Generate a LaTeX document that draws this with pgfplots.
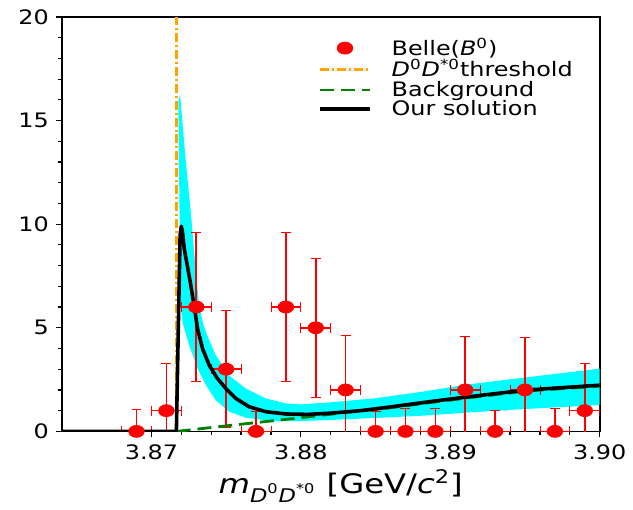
\documentclass[border=0pt]{standalone}
\usepackage{fontspec}
\setmainfont{DejaVu Sans}[FakeStretch=1.2]
\usepackage{amsmath}
\usepackage{pgfplots}
\pgfplotsset{compat=1.18}
\definecolor{mplorange}{RGB}{255,165,0}
\definecolor{mplgreen}{RGB}{0,128,0}
\definecolor{mplcyan}{RGB}{0,255,255}
\definecolor{mplred}{RGB}{255,0,0}
\begin{document}
\begin{tikzpicture}
\begin{axis}[
  scale only axis, width=270pt, height=208pt,
  xmin=3.864, xmax=3.90, ymin=0, ymax=20,
  xtick={3.87,3.88,3.89,3.90}, ytick={0,5,10,15,20},
  minor x tick num=4, minor y tick num=4,
  tick align=outside, tick pos=left,
  major tick length=3pt, minor tick length=1.8pt,
  every tick/.style={black, line width=0.6pt},
  axis line style={black, line width=0.8pt},
  scaled x ticks=false,
  /pgf/number format/assume math mode=true,
  xticklabel style={/pgf/number format/.cd, fixed, fixed zerofill, precision=2, /tikz/.cd, font=\fontsize{10}{12}\selectfont},
  yticklabel style={font=\fontsize{10}{12}\selectfont},
  xlabel={$\text{\itshape m}_{\text{\itshape D}^{\text{0}}\text{\itshape D}^{\text{*0}}}$ [GeV/\textit{c}$^{\text{2}}$]},
  xlabel style={font=\fontsize{13.5}{16}\selectfont, yshift=2pt, xshift=5pt},
  legend style={at={(0.465,0.965)}, anchor=north west, draw=none, fill=none,
    font=\fontsize{10}{10}\selectfont, row sep=-1.5pt, column sep=9pt, nodes={inner sep=1pt}},
  legend cell align=left,
  legend image code/.code={\draw[mark repeat=2,mark phase=2,#1] plot coordinates {(0pt,0pt) (12.5pt,0pt) (25pt,0pt)};},
]
% uncertainty band
\addplot[fill=mplcyan, draw=none, forget plot] coordinates {
 (3.87180,15.9) (3.87192,16.25) (3.87230,13.0) (3.87265,10.5) (3.87290,8.3)
 (3.87320,6.0) (3.87350,5.1) (3.87375,4.6) (3.87431,3.67) (3.87520,2.7)
 (3.87631,2.07) (3.87765,1.59) (3.87900,1.35) (3.88000,1.30) (3.88200,1.40)
 (3.88500,1.60) (3.88800,1.90) (3.89100,2.25) (3.89500,2.60) (3.90000,3.03)
 (3.90000,1.27) (3.89500,1.08) (3.89100,0.90) (3.88800,0.75) (3.88500,0.65)
 (3.88200,0.55) (3.88000,0.50) (3.87800,0.50) (3.87631,0.66) (3.87520,0.95)
 (3.87431,1.50) (3.87365,2.23) (3.87309,3.03) (3.87253,4.15) (3.87210,5.2)
 (3.87195,6.0) (3.87180,15.9)
} -- cycle;
% Belle data
\addplot[only marks, mark=*, color=mplred, mark size=3pt,
  mark options={xscale=1.3, fill=mplred, draw=mplred},
  error bars/.cd, x dir=both, x explicit, y dir=both, y explicit,
  error bar style={mplred, line width=0.8pt, mark size=2.5pt}]
  table[x=x, y=y, x error=ex, y error=ey] {
x y ex ey
3.869 0 0.001 1.05
3.871 1 0.001 2.27
3.873 6 0.001 3.58
3.875 3 0.001 2.83
3.877 0 0.001 0.95
3.879 6 0.001 3.58
3.881 5 0.001 3.35
3.883 2 0.001 2.62
3.885 0 0.001 0.95
3.887 0 0.001 1.1
3.889 0 0.001 1.1
3.891 2 0.001 2.6
3.893 0 0.001 1.0
3.895 2 0.001 2.55
3.897 0 0.001 1.1
3.899 1 0.001 2.27
};
\addlegendentry{Belle(\textit{B}\textsuperscript{0})}
% threshold
\addplot[color=mplorange, line width=1.5pt, dash pattern=on 4.5pt off 1.5pt on 1pt off 1.5pt]
  coordinates {(3.87169,0) (3.87169,20)};
\addlegendentry{\textit{D}\textsuperscript{0}\textit{D}\textsuperscript{*0}threshold}
% background
\addplot[color=mplgreen, line width=1.4pt, dash pattern=on 7pt off 3.5pt]
  coordinates {(3.87169,0) (3.8753,0.29) (3.8785,0.54) (3.8812,0.76) (3.8834,0.94)
  (3.886,1.14) (3.8888,1.40) (3.891,1.60) (3.895,1.94) (3.900,2.18)};
\addlegendentry{Background}
% our solution
\addplot[color=black, line width=1.8pt, line join=round]
  coordinates {(3.864,0) (3.87167,0) (3.8718,5.0) (3.87192,9.5) (3.87200,9.9)
  (3.87208,9.6) (3.8722,8.8) (3.8724,8.0) (3.8726,7.2) (3.87287,6.0)
  (3.87309,4.95) (3.87342,3.99) (3.87387,3.19) (3.87442,2.55) (3.87498,2.07)
  (3.87565,1.59) (3.87653,1.19) (3.87765,0.95) (3.879,0.84) (3.8805,0.82)
  (3.882,0.88) (3.884,1.0) (3.886,1.18) (3.8888,1.45) (3.891,1.65)
  (3.895,1.99) (3.900,2.23)};
\addlegendentry{Our solution}
\end{axis}
\path ([xshift=-31pt,yshift=-30.5pt]current axis.south west) rectangle ([xshift=15.5pt,yshift=8.5pt]current axis.north east);
\end{tikzpicture}
\end{document}
